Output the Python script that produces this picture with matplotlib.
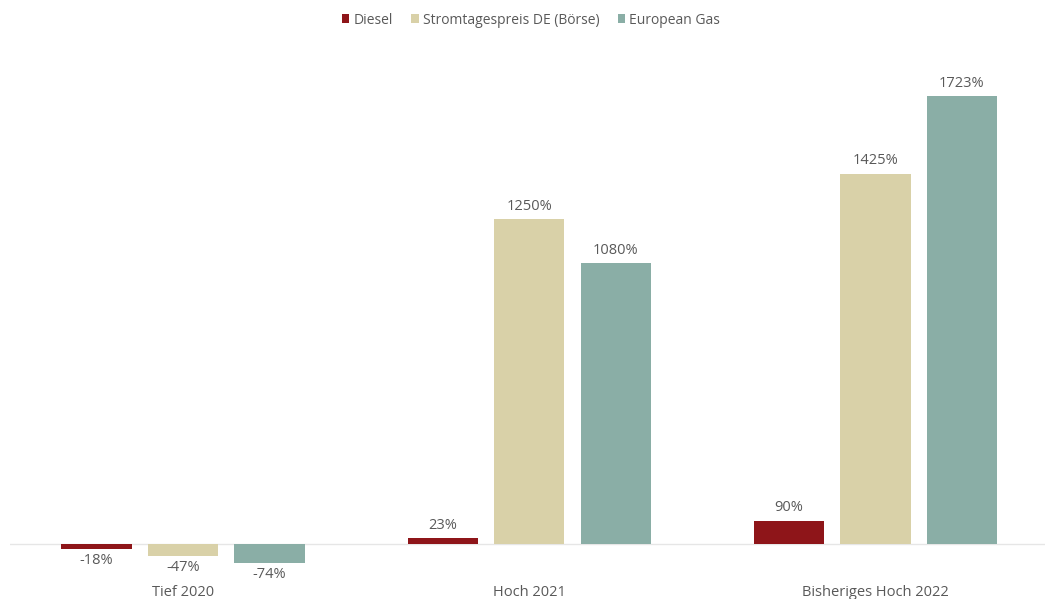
import matplotlib.pyplot as plt
import numpy as np

plt.rcParams['font.family'] = ['Open Sans', 'DejaVu Sans']

categories = ["Tief 2020", "Hoch 2021", "Bisheriges Hoch 2022"]
series_names = ["Diesel", "Stromtagespreis DE (Börse)", "European Gas"]
diesel = [-18, 23, 90]
strom = [-47, 1250, 1425]
gas = [-74, 1080, 1723]

colors = ["#8e1519", "#d9d1a8", "#8aaea6"]
text_color = "#595959"

fig = plt.figure(figsize=(10.45, 5.99), dpi=100)
# axes placed so that zero line sits around y=544 px
ax = fig.add_axes([10 / 1045, 1 - 575 / 599, 1 - 10 / 1045, (575 - 60) / 599])

x = np.arange(len(categories))
step = 0.25
width = 0.203

for i, (name, vals) in enumerate(zip(series_names, [diesel, strom, gas])):
    pos = x + (i - 1) * step
    bars = ax.bar(pos, vals, width, color=colors[i], label=name)
    for b, v in zip(bars, vals):
        if v >= 0:
            ax.annotate(f"{v}%", (b.get_x() + b.get_width() / 2, v),
                        xytext=(0, 4), textcoords="offset points",
                        ha="center", va="bottom", fontsize=10.5, color=text_color)
        else:
            ax.annotate(f"{v}%", (b.get_x() + b.get_width() / 2, v),
                        xytext=(0, -3), textcoords="offset points",
                        ha="center", va="top", fontsize=10.5, color=text_color)

ax.axhline(0, color="#e6e6e6", linewidth=1, zorder=0)
ax.set_xlim(-0.5, 2.49)
ax.set_ylim(-119, 1862)
ax.set_xticks(x)
ax.set_xticklabels(categories, fontsize=10.5, color=text_color)
ax.tick_params(axis="x", length=0, pad=7)
ax.set_yticks([])
for s in ax.spines.values():
    s.set_visible(False)

fig.legend(loc="upper center", bbox_to_anchor=(531 / 1045, 1.0), ncol=3,
           frameon=False, fontsize=10, handlelength=0.55, handleheight=0.55,
           handletextpad=0.3, columnspacing=1.3, labelcolor=text_color)

fig.savefig("out.png", dpi=100)
